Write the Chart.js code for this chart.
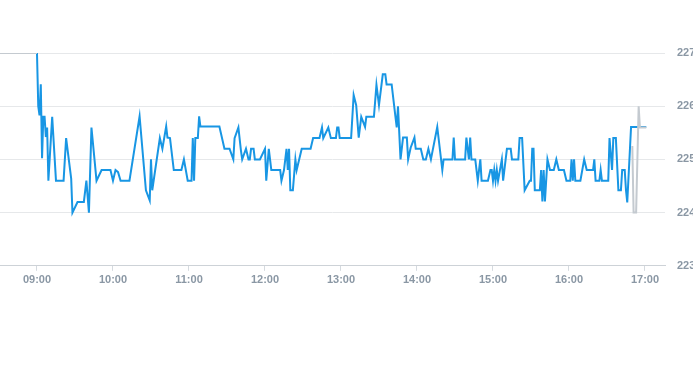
<!DOCTYPE html>
<html>
<head>
<meta charset="utf-8">
<title>Intraday price</title>
<script src="https://cdn.jsdelivr.net/npm/chart.js@4/dist/chart.umd.min.js"></script>
<style>
  html, body { margin: 0; padding: 0; background: #fff; }
  #wrap { position: relative; width: 693px; height: 294px; }
</style>
</head>
<body>
<div id="wrap"><canvas id="priceChart"></canvas></div>
<script>
// Regular session (blue)
const sessionTimes = [
  '09:00','09:01','09:02','09:03','09:04','09:05','09:06','09:07','09:08','09:09',
  '09:12','09:15','09:21','09:23','09:27','09:28','09:32','09:37','09:39','09:41',
  '09:43','09:47','09:51','09:58','10:00','10:02','10:04','10:06','10:13','10:21',
  '10:26','10:29','10:30','10:31','10:37','10:39','10:42','10:43','10:45','10:48',
  '10:54','10:56','10:59','11:02','11:03','11:04','11:05','11:07','11:08','11:09',
  '11:24','11:28','11:32','11:35','11:36','11:39','11:41','11:42','11:45','11:47',
  '11:48','11:49','11:51','11:52','11:56','12:00','12:01','12:03','12:05','12:12',
  '12:13','12:15','12:17','12:18','12:19','12:20','12:22','12:24','12:25','12:29',
  '12:36','12:38','12:43','12:45','12:46','12:50','12:52','12:56','12:57','12:58',
  '12:59','13:08','13:10','13:12','13:14','13:16','13:19','13:20','13:26','13:28',
  '13:30','13:33','13:35','13:36','13:40','13:43','13:44','13:45','13:47','13:49',
  '13:52','13:53','13:55','13:58','13:59','14:03','14:05','14:07','14:09','14:11',
  '14:16','14:20','14:21','14:28','14:29','14:30','14:38','14:39','14:41','14:42',
  '14:43','14:46','14:48','14:50','14:51','14:56','14:58','14:59','15:00','15:01',
  '15:02','15:03','15:04','15:07','15:08','15:11','15:14','15:15','15:20','15:21',
  '15:23','15:25','15:29','15:30','15:31','15:32','15:33','15:37','15:38','15:39',
  '15:40','15:41','15:43','15:45','15:48','15:50','15:52','15:56','15:58','16:01',
  '16:02','16:03','16:04','16:05','16:09','16:12','16:14','16:19','16:20','16:21',
  '16:24','16:25','16:26','16:31','16:32','16:34','16:35','16:37','16:39','16:41',
  '16:42','16:44','16:45','16:46','16:49','17:01'
];
const sessionPrices = [
  227.0, 226.0, 225.83, 226.41, 225.02, 225.8, 225.8, 225.42, 225.6, 224.6,
  225.8, 224.6, 224.6, 225.4, 224.64, 224.0, 224.2, 224.2, 224.6, 224.0,
  225.6, 224.6, 224.8, 224.8, 224.6, 224.8, 224.76, 224.6, 224.6, 225.81,
  224.42, 224.23, 225.0, 224.42, 225.4, 225.2, 225.62, 225.41, 225.4, 224.8,
  224.8, 225.0, 224.6, 224.6, 225.4, 224.6, 225.4, 225.4, 225.81, 225.62,
  225.62, 225.2, 225.2, 225.0, 225.4, 225.6, 225.17, 225.0, 225.2, 225.0,
  225.0, 225.2, 225.2, 225.0, 225.0, 225.2, 224.6, 225.2, 224.8, 224.8,
  224.6, 224.8, 225.2, 224.8, 225.2, 224.42, 224.42, 225.0, 224.8, 225.2,
  225.2, 225.4, 225.4, 225.6, 225.4, 225.6, 225.4, 225.4, 225.6, 225.6,
  225.4, 225.4, 226.21, 226.02, 225.41, 225.8, 225.61, 225.8, 225.8, 226.4,
  226.02, 226.6, 226.6, 226.41, 226.41, 225.8, 225.6, 226.0, 225.0, 225.41,
  225.41, 225.0, 225.22, 225.41, 225.2, 225.2, 225.0, 225.0, 225.2, 225.0,
  225.61, 224.8, 225.0, 225.0, 225.41, 225.0, 225.0, 225.41, 225.0, 225.41,
  225.0, 225.0, 224.6, 225.0, 224.6, 224.6, 224.8, 224.8, 224.6, 224.8,
  224.6, 224.8, 224.6, 225.0, 224.6, 225.2, 225.2, 225.0, 225.0, 225.4,
  225.4, 224.42, 224.6, 224.6, 225.2, 225.2, 224.42, 224.42, 224.8, 224.21,
  224.8, 224.21, 225.0, 224.8, 224.8, 225.0, 224.8, 224.8, 224.6, 224.6,
  225.0, 224.6, 225.0, 224.6, 224.6, 225.0, 224.8, 224.8, 225.0, 224.6,
  224.6, 224.8, 224.6, 224.6, 225.4, 224.8, 225.4, 225.4, 224.42, 224.42,
  224.8, 224.8, 224.42, 224.19, 225.61, 225.61
];

// Extended hours (grey)
const preTimes = ['08:30', '09:00'];
const prePrices = [227.0, 227.0];
const postTimes = ['16:50', '16:51', '16:53', '16:55', '16:56', '17:01'];
const postPrices = [225.25, 224.0, 224.0, 226.0, 225.6, 225.6];

const hourLabels = ['09:00', '10:00', '11:00', '12:00', '13:00', '14:00', '15:00', '16:00', '17:00'];
const priceTicks = [223, 224, 225, 226, 227];

const BLUE = '#1896e4';
const GREY = '#c4cad0';
const LABEL = '#8a97a4';

function toMin(t) {
  const [h, m] = t.split(':').map(Number);
  return h * 60 + m;
}

function points(times, prices) {
  return times.map((t, i) => ({ x: toMin(t), y: prices[i] }));
}

const lineStyle = {
  borderWidth: 2,
  pointRadius: 0,
  pointHoverRadius: 0,
  tension: 0,
  fill: false
};

const ctx = document.getElementById('priceChart');
new Chart(ctx, {
  type: 'line',
  data: {
    datasets: [
      { ...lineStyle, label: 'pre', data: points(preTimes, prePrices), borderColor: GREY, order: 1 },
      { ...lineStyle, label: 'post', data: points(postTimes, postPrices), borderColor: GREY, order: 0 },
      { ...lineStyle, label: 'session', data: points(sessionTimes, sessionPrices), borderColor: BLUE, order: 2 }
    ]
  },
  options: {
    responsive: true,
    maintainAspectRatio: false,
    animation: false,
    layout: { padding: { top: 53, left: 0, right: 0, bottom: 4 } },
    plugins: {
      legend: { display: false },
      tooltip: { enabled: false }
    },
    scales: {
      x: {
        type: 'linear',
        // visible window runs a little past 08:30 and 17:15
        min: toMin('08:30') + 0.8,
        max: toMin('17:15') + 0.8,
        afterBuildTicks: scale => {
          scale.ticks = hourLabels.map(l => ({ value: toMin(l) }));
        },
        ticks: {
          autoSkip: false,
          maxRotation: 0,
          padding: 3,
          color: LABEL,
          font: { family: 'Liberation Sans, Arial, sans-serif', size: 11, weight: 'bold' },
          callback: (v, i) => hourLabels[i]
        },
        grid: { drawOnChartArea: false, drawTicks: true, tickLength: 5, color: '#d5dadf' },
        border: { color: '#cdd2d7' }
      },
      y: {
        position: 'right',
        min: priceTicks[0],
        max: priceTicks[priceTicks.length - 1],
        afterBuildTicks: scale => {
          scale.ticks = priceTicks.map(v => ({ value: v }));
        },
        afterFit: scale => { scale.width = 28; },
        ticks: {
          padding: 12,
          color: LABEL,
          font: { family: 'Liberation Sans, Arial, sans-serif', size: 11, weight: 'bold' }
        },
        grid: { color: '#e6e8ea', drawTicks: false },
        border: { display: false }
      }
    }
  }
});
</script>
</body>
</html>
